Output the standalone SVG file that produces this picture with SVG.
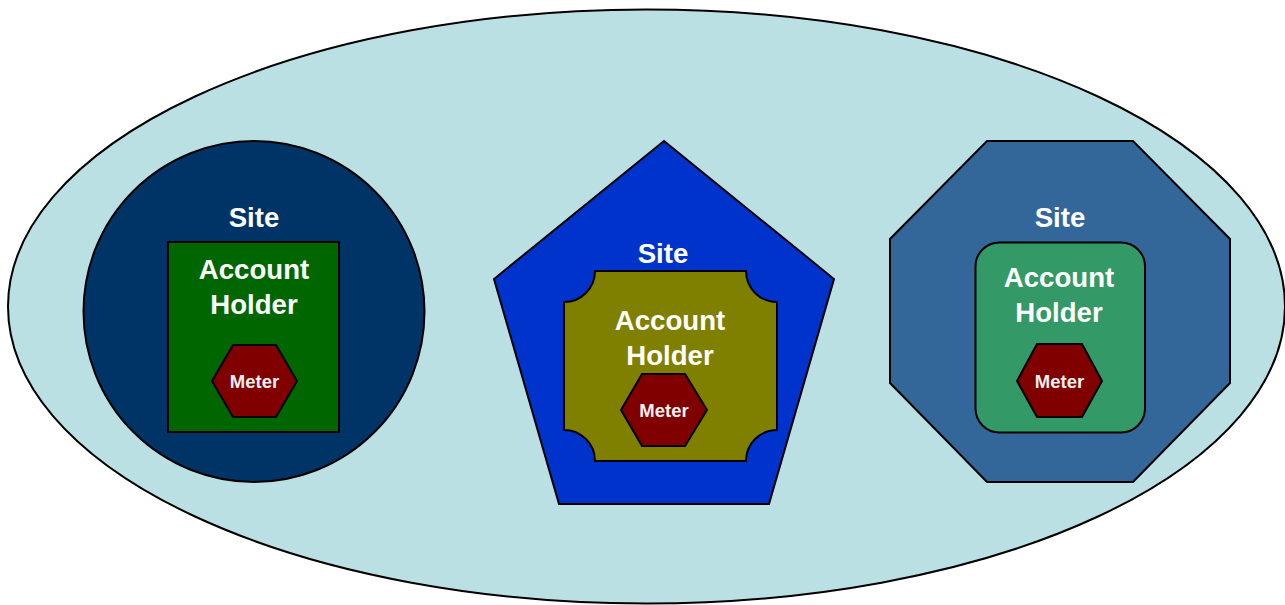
<svg xmlns="http://www.w3.org/2000/svg" width="1285" height="605" viewBox="0 0 1285 605">
<style>
  .ol { stroke:#000; stroke-width:2; stroke-linejoin:miter; }
  .lbl { font-family:"Liberation Sans", Arial, sans-serif; font-weight:bold; fill:#fff; text-anchor:middle; }
  .big { font-size:27.6px; }
  .sm { font-size:18.5px; fill:#F0F0F0; }
  .meter { fill:#800000; }
</style>
<rect width="1285" height="605" fill="#fff"/>
<g id="region">
  <ellipse class="ol" cx="646.5" cy="306.5" rx="638.5" ry="297" fill="#BAE0E3"/>
</g>
<g id="site1">
  <circle class="ol" cx="254" cy="311.5" r="170.5" fill="#003366"/>
  <text class="lbl big" x="254" y="227">Site</text>
</g>
<g id="account1">
  <rect class="ol" x="168" y="242" width="171" height="190" fill="#006600"/>
  <text class="lbl big" x="254" y="279">Account</text>
  <text class="lbl big" x="254" y="314">Holder</text>
</g>
<g id="meter1">
  <polygon class="ol meter" points="212,381 233,345 276,345 297,381 276,417 233,417"/>
  <text class="lbl sm" x="254.5" y="387.5">Meter</text>
</g>
<g id="site2">
  <polygon class="ol" points="664,141 834,279 769,504 559,504 494,279" fill="#0033CC"/>
  <text class="lbl big" x="663" y="262.5">Site</text>
</g>
<g id="account2">
  <path class="ol" fill="#808000" d="M595,271 L746,271 A31,31 0 0 0 777,302 L777,430 A31,31 0 0 0 746,461 L595,461 A31,31 0 0 0 564,430 L564,302 A31,31 0 0 0 595,271 Z"/>
  <text class="lbl big" x="670" y="330">Account</text>
  <text class="lbl big" x="670" y="365">Holder</text>
</g>
<g id="meter2">
  <polygon class="ol meter" points="621,410 642,374 685,374 707,410 685,446 642,446"/>
  <text class="lbl sm" x="664" y="416.5">Meter</text>
</g>
<g id="site3">
  <polygon class="ol" points="987,141 1133,141 1230,239 1230,383 1133,482 987,482 890,383 890,239" fill="#336699"/>
  <text class="lbl big" x="1060" y="227">Site</text>
</g>
<g id="account3">
  <rect class="ol" x="975.5" y="242.5" width="169.5" height="190" rx="24" ry="24" fill="#339966"/>
  <text class="lbl big" x="1059" y="287">Account</text>
  <text class="lbl big" x="1059" y="322">Holder</text>
</g>
<g id="meter3">
  <polygon class="ol meter" points="1017,381 1037,344 1082,344 1102,381 1082,417 1037,417"/>
  <text class="lbl sm" x="1059.5" y="388">Meter</text>
</g>
<g id="connectors"></g>
</svg>
